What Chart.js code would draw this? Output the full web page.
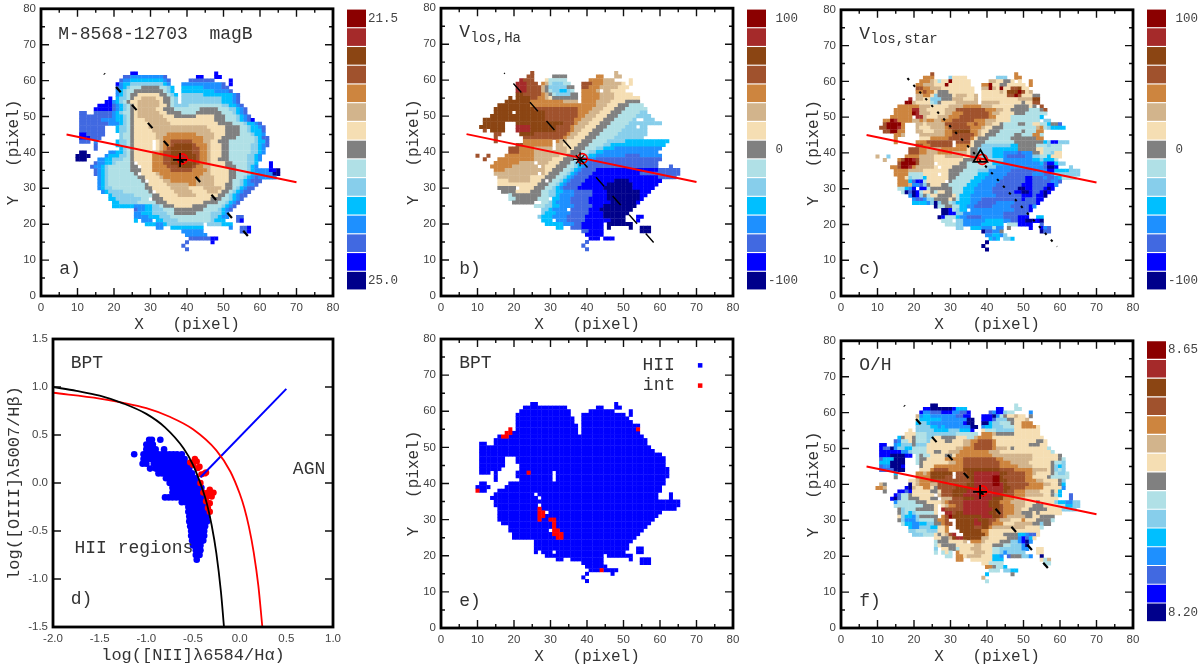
<!DOCTYPE html>
<html>
<head>
<meta charset="utf-8">
<script src="https://cdn.jsdelivr.net/npm/chart.js@4"></script>
<style>
body { margin: 0; background: #fff; }
canvas { position: absolute; }
</style>
</head>
<body>
<canvas id="mapA" width="345" height="335" style="left:0;top:0"></canvas>
<canvas id="barA" width="55" height="295" style="left:345px;top:0"></canvas>
<canvas id="mapB" width="345" height="335" style="left:400px;top:0"></canvas>
<canvas id="barB" width="55" height="295" style="left:745px;top:0"></canvas>
<canvas id="mapC" width="345" height="335" style="left:800px;top:0"></canvas>
<canvas id="barC" width="55" height="295" style="left:1145px;top:0"></canvas>
<canvas id="mapD" width="345" height="335" style="left:0;top:332px"></canvas>
<canvas id="mapE" width="345" height="335" style="left:400px;top:332px"></canvas>
<canvas id="mapF" width="345" height="335" style="left:800px;top:332px"></canvas>
<canvas id="barF" width="55" height="295" style="left:1145px;top:332px"></canvas>
<script>
// colour levels, bottom of the colour bar first
var levelKeys = '0123456789abcde';
var levelColors = ['#00008b', '#0000ff', '#4169e1', '#1e90ff', '#00bfff', '#87ceeb', '#b0e0e6', '#808080',
    '#f5deb3', '#d2b48c', '#cd853f', '#a0522d', '#8b4513', '#a52a2a', '#8b0000'];

var pixelTicks = [0, 10, 20, 30, 40, 50, 60, 70, 80];
var pixelMinor = [5, 15, 25, 35, 45, 55, 65, 75];
var bptTicksX = [-2, -1.5, -1, -0.5, 0, 0.5, 1];
var bptTicksY = [-1.5, -1, -0.5, 0, 0.5, 1, 1.5];

var barLabelsMag = ['21.5', '', '', '', '', '', '', '', '', '', '', '', '', '', '25.0'];
var barLabelsVel = [' 100', '', '', '', '', '', '', ' 0', '', '', '', '', '', '', '-100'];
var barLabelsOH = ['8.65', '', '', '', '', '', '', '', '', '', '', '', '', '', '8.20'];

// each row: y | xfrom-xto:level
var magBRows = [
'62|25-26:1 48:1',
'61|23-24:2 25-33:3 34:2 43-44:1 48-49:1',
'60|22:2 23-24:3 25-33:4 34:3 35:2 41-47:2 52:1',
'59|21:1 22:3 23-24:4 25-33:5 34:4 35:3 39-49:3 50:2 52:1',
'58|21:2 22:3 23:4 24:5 25-27:6 28-32:7 33-34:6 35:5 36:4 39-44:4 45-49:3 50-51:2',
'57|21:3 22:4 23:5 24-25:6 26-33:7 34:6 35:5 36:4 39-47:4 48-51:3 52:2',
'56|21:3 22:4 23:5 24:6 25-26:7 27-32:8 33-34:7 35:6 36:5 37:4 39-44:5 45-52:4 53:3 54:2',
'55|19:1 21:4 22-23:5 24:6 25:7 26-27:8 28-31:9 32-33:8 34-35:7 36:6 37:5 39-49:5 50-52:4 53:3 54:2',
'54|18-19:1 20:3 21:4 22:5 23:6 24:7 25-26:8 27-32:9 33:8 34-35:7 36:6 37:5 39-49:5 50-52:4 53:3 54:2',
'53|16-19:1 20:2 21:3 22:4 23:5 24:6 25:7 26:8 27-32:9 33-34:8 35:7 36:6 37-40:5 41-49:6 50-51:5 52-53:4 54:3 55:2',
'52|15-19:1 20:2 21:3 22:4 23:5 24:6 25:7 26:8 27-31:9 32-33:8 34-36:7 37-43:6 44-48:7 49-51:6 52-53:5 54:4 55:3 56:2',
'51|11-12:2 15-19:2 20:3 21:4 22:5 23-24:6 25:7 26:8 27-32:9 33-34:8 35-38:7 39-42:6 43-49:7 50-52:6 53:5 54:4 55:3 56:2',
'50|11-19:2 20:3 21-22:4 23:5 24:6 25:7 26:8 27-33:9 34-36:8 37-42:7 43-47:8 48-50:7 51-53:6 54:5 55:4 56:3 57:2',
'49|11-16:2 17-20:3 21-22:4 23:5 24:6 25:7 26-28:8 29-34:9 35-47:8 48-50:7 51-53:6 54:5 55:4 56:3 57:2 58:1',
'48|11-18:2 19-21:3 22:4 23:5 24:6 25:7 26-29:8 30-35:9 36-48:8 49-52:7 53-55:6 56:5 57-58:4 59:3 60:2',
'47|11-17:2 21:4 22-23:5 24:6 25:7 26-29:8 30-45:9 46-50:8 51-54:7 55-56:6 57:5 58-59:4 60:3 61:2',
'46|11-17:2 21:4 22-23:5 24:6 25:7 26-30:8 31-46:9 47-50:8 51-54:7 55-56:6 57:5 58-60:4 61:2',
'45|11-12:1 13-17:2 22:5 23-24:6 25:7 26-31:8 32-34:9 35-42:a 43-47:9 48-50:8 51-54:7 55-57:6 58:5 59-60:4 61:3',
'44|11-13:1 14-16:2 22:5 23-24:6 25:7 26-31:8 32-33:9 34-44:a 45-47:9 48-49:8 50-53:7 54-58:6 59:5 60:4 61-62:2',
'43|11-13:2 15:3 21:4 22-23:5 24:6 25:7 26-30:8 32:8 33:9 34-35:a 36-41:b 42-44:a 45-46:9 47-48:8 49-51:7 52-58:6 59:5 60-61:4 62:2',
'42|15:2 21:4 22-23:5 24:6 25:7 26-30:8 32:8 33:9 34-35:a 36:b 37-41:c 42:b 43-45:a 46:9 47-49:8 50-51:7 52-57:6 58-59:5 60:4 61:3 62:2',
'41|15:2 22:4 23:5 24:6 25:7 26-30:8 32:8 33:9 34:a 35:b 36-41:c 42-43:b 44-45:a 46:9 47-49:8 50-51:7 52-57:6 58-59:5 60:4 61:3',
'40|11-12:0 19-20:3 21-22:4 23:5 24:6 25:7 26-30:8 31-32:9 33:a 34-35:b 36-41:c 42-43:b 44-45:a 46:9 47-49:8 50-51:7 52-57:6 58-59:5 60:4 61:3',
'39|10-13:0 18:3 19-21:4 22-23:5 24:6 25:7 26-30:8 31-33:a 34-35:b 36-37:c 38-39:d 40-42:c 43:b 44-45:a 46:9 47-49:8 50-51:7 52-56:6 57-58:5 59:4 60:3',
'38|10-12:0 16-17:3 18-19:4 20-22:5 23-24:6 25:7 26-30:8 31-33:a 34-35:b 36-37:c 38-40:d 41-42:c 43:b 44-45:a 46:9 47-48:8 49-51:7 52-56:6 57-58:5 59:4 60:3',
'37|15:2 16-17:3 18-19:4 20:5 21-24:6 25:7 27-30:8 31-33:a 34-35:b 36-42:c 43:b 44-45:a 46:9 47-50:8 51-52:7 53-56:6 57-58:5 59:4 63:1',
'36|14:2 15-16:3 17:4 18:5 19-24:6 25-26:7 28-30:8 31-34:a 35-37:b 38-41:c 42:b 43-44:a 45-46:9 47-50:8 51-53:7 54-56:6 57:5 58:4 59:3 63:1',
'35|15:2 16:3 17:4 18:5 19-24:6 25-27:7 28-30:8 31-35:a 36-41:b 42-45:a 46:9 47-51:8 52-53:7 54-56:6 57:5 58:4 59-62:3 63-64:1 65:0',
'34|15:2 16:3 17:4 18:5 19-25:6 26:7 28-31:8 32:9 33-44:a 45-46:9 47-51:8 52-53:7 54-56:6 57:5 58-59:4 60-63:3 64-65:0',
'33|16:3 17:4 18:5 19-26:6 27-28:7 29-32:8 33:9 34-43:a 44-47:9 48-51:8 52-53:7 54-55:6 56:5 57:4 58:3 59:2 60-64:3',
'32|16:3 17:4 18:5 19-27:6 28:7 30-33:8 34-35:9 36-42:a 43-47:9 48-51:8 52:7 53-54:6 55:5 56:4 57:3 58-60:2',
'31|16:3 17:4 18:5 19-28:6 29:7 30-34:8 35-40:9 41-42:a 43-47:9 48-50:8 51-52:7 53-54:6 55:5 56:4 57-58:3 59:2',
'30|16:3 17:4 18-19:5 20-28:6 29-30:7 31-35:8 36-40:9 41-44:8 45-49:9 50:8 51-52:7 53:6 54:5 55:4 56:3 57-58:2',
'29|17:3 18:4 19-22:5 23-29:6 30:7 32-36:8 37-41:9 42-45:8 46-48:9 49:8 50-51:7 52:6 53:5 54:4 55:3 56-57:2',
'28|19:4 20-25:5 26-30:6 31-32:7 33-37:8 38-42:9 43-48:8 49-50:7 51:6 52:5 53:4 54:3 55-56:2',
'27|19-20:4 21-27:5 28-29:6 31-33:7 34-46:8 47-49:7 50-51:6 52:5 53:4 54:3 55:2',
'26|20-21:4 22-26:5 27-31:6 32-34:7 35-44:8 45-48:7 49-50:6 51:5 52:4 53:3 54:2',
'25|20-25:4 26-28:3 29-30:4 31-32:5 33:6 34-36:7 37-41:8 42-45:7 46-49:6 50:5 51:4 52:3 53:2',
'24|26:2 27-28:3 29-30:4 31-33:5 34-36:6 37-44:7 45-48:6 49:5 50:4 51:3 52:2',
'23|26-27:3 28-30:4 31-34:5 35-36:6 37-42:7 43-46:6 47-49:5 50:4 51:3',
'22|26-29:3 30-32:4 33-35:5 36-46:6 47-48:5 49:4 50-51:3 54-55:2',
'21|26:4 28-30:3 32-33:4 34-37:5 38-46:6 47:5 48-50:4 54:2 55:1',
'20|29-31:4 32-33:3 34:4 35-44:5 46-49:5 50-52:4',
'19|32-33:3 36-44:4 52:3 55-56:2 57:1',
'18|39-44:3 55-56:2 57:1',
'17|40-45:3',
'16|41-46:2 47-48:1',
'15|40:2 47:1',
'14|39:2',
'13|40:2'
];

var vHaRows = [
'62|25:b 48:9',
'61|24-25:b 31-34:7 43-44:a 48-49:9',
'60|22:d 23-25:b 29:8 30-34:6 41-44:a 45-47:9 52:8',
'59|21-23:d 24-26:b 28:a 29:9 30:6 31-33:5 34-35:6 39-41:b 42-44:a 45-49:9 50:8 52:8',
'58|21-23:d 24-27:b 28:9 29:7 30-34:5 35-36:7 39-40:b 41-43:a 44-48:9 49-51:8',
'57|21-23:d 24-27:b 28:9 29:7 30:6 31-32:5 33-34:4 35:5 36:6 39-42:a 43:9 45-46:9 47-50:8',
'56|21-22:c 23-27:b 28:a 29:9 30:7 31:6 32-35:5 36-37:7 39-43:a 44-47:9 48-52:8',
'55|19:c 21-24:c 25-26:b 27-28:a 29:9 30:8 31-37:7 39-43:a 44-47:9 48-54:8',
'54|18-24:c 25-33:a 34-37:9 39-42:a 43-46:9 47-50:8 51-54:7',
'53|16-24:c 25-38:a 39-42:a 43-45:9 46-48:8 49-51:7 52-55:6',
'52|15-25:c 26-37:b 38-41:a 42-44:9 45-47:8 48-50:7 51-56:6',
'51|15-19:c 21-28:c 29-37:b 38-40:a 41-43:9 44-46:8 47-49:7 50-54:6 55-56:5',
'50|14-28:c 29-37:b 38-39:a 40-42:9 43-45:8 46-48:7 49-53:6 54-57:5',
'49|12-28:c 29-36:b 37-38:a 39-41:9 42-44:8 45-47:7 48-52:6 53:5 56-58:5',
'48|12-17:c 21-33:c 34-36:b 37:a 38-40:9 41-43:8 44-46:7 47-51:6 52-60:5',
'47|11-17:c 21-24:d 25-31:c 32-35:b 36:a 37-39:9 40-42:8 43-45:7 46-50:6 51-53:5 55-56:5',
'46|12:b 14-17:c 21-24:d 25-31:c 32-35:b 36:a 37-38:9 39-41:8 42-44:7 45-49:6 50-56:5',
'45|15-16:b 22-25:c 26-34:b 35:a 36-37:9 38-40:8 41-43:7 44-48:6 49-56:5',
'44|15:b 23-33:b 34:a 35-36:9 37-39:8 40-42:7 43-47:6 48-55:5',
'43|15:b 23-30:a 32:a 33-34:9 35-38:8 39-41:7 42-45:6 46-50:5 51-62:4',
'42|21-22:b 23-30:a 32-33:9 34-37:8 38-40:7 41-44:6 45-46:5 47-61:4',
'41|19-21:b 22-25:a 26-30:9 32-34:9 35-36:8 37-39:7 40-42:6 43-44:5 45-47:4 48-60:3',
'40|19-21:b 22-25:a 26-34:9 35:8 36-38:7 39-40:6 41-42:5 43-44:4 45-59:3',
'39|10:b 13:b 18-25:a 26-32:9 33-34:8 35-37:7 38-39:6 40:5 41-42:4 43-50:3 51-54:2 55-60:3',
'38|12:b 16-25:a 26-30:9 31-33:8 34-36:7 37:6 38:5 39:4 40-42:3 43-60:2',
'37|15-21:a 22-25:9 27-29:9 30-32:8 33-35:7 36:6 37:5 38:4 39-40:3 41-59:2',
'36|14-19:a 20-26:9 28:9 29-31:8 32-34:7 35-36:6 37:5 38:4 39:3 40-59:2 63:2',
'35|15-17:a 18-28:9 29-30:8 31-33:7 34-35:6 36:5 37:4 38:3 39-42:2 43-59:1 60-65:2',
'34|15-26:9 28:9 29:8 30-32:7 33-34:6 35:5 36:4 37:3 38-41:2 42-54:1 55-65:2',
'33|16-24:9 25-28:8 29-31:7 32-33:6 34:5 35:4 36:3 37-40:2 41-59:1 60-64:2',
'32|16-18:8 19-24:9 25-27:8 28:7 30:7 31-32:6 33:5 34:4 35:3 36-39:2 40-47:1 48-51:0 52-60:1',
'31|16-26:8 27-29:7 30-31:6 32:5 33:4 34:3 35-38:2 39-45:1 46-52:0 53-59:1',
'30|16-20:7 22-25:8 26-28:7 29-30:6 31:5 32:4 33:3 34-37:2 38-44:1 45-52:0 53-58:1',
'29|17-20:7 21-24:8 25-27:7 28-29:6 30-31:5 32-33:4 34-36:3 37-41:2 42-45:1 46-54:0 55-57:1',
'28|19:6 20-27:7 28-29:6 30-31:5 32:4 33-36:3 37-41:2 42-45:1 46-54:0 55-56:1',
'27|19-20:6 21-26:7 27-29:6 31-32:4 33-35:3 36-40:2 41-45:1 46-54:0 55:1',
'26|20-25:7 28-29:6 30:5 31:4 32-35:3 36-40:2 41-46:1 47-53:0 54:1',
'25|26-28:6 29-30:5 31-32:4 33-36:3 37-41:2 42-44:1 45-53:0',
'24|28-29:5 30:4 31-34:3 36-40:2 41-43:1 44-52:0',
'23|28:5 29-31:4 32-35:3 36-40:2 41-44:1 45-51:0',
'22|27:5 28-30:4 31-34:3 35-39:2 40-44:1 45-50:0 54-55:1',
'21|28-30:4 32-34:3 35-39:2 40-46:1 47-50:0 54:1',
'20|29-33:4 34-36:3 37-38:2 39-44:1 46-52:0',
'19|32-33:4 36-38:2 39-44:1 46:0 52:0 55-57:0',
'18|39-40:2 41-44:1 55-57:0',
'17|40-44:1',
'16|41-43:1 45-47:1',
'15|40:2',
'14|39:2',
'13|40:2'
];

var vStarRows = [
'62|25:b 48:a',
'61|23-25:a 30:5 31-34:8 43-45:5 48-49:a',
'60|22-24:a 25:9 26:8 27:6 28-29:8 30:e 31-35:8 41-42:9 43-44:8 45-46:7 47:8 49:8 52:a',
'59|21-22:a 23-25:9 26-28:8 29:e 30-35:8 39-40:a 41:e 42-43:8 44-45:7 46-50:8 52:a',
'58|21-22:b 23-24:a 25-27:9 28-36:8 39-40:9 41:e 42:9 43:8 44:e 45-46:8 47-48:b 49:c 50-51:8',
'57|21-22:a 23:b 24-25:a 26:8 27-29:7 30-36:8 39-43:8 44:9 45:8 46-48:c 49:e 50:b 51:8 52:9',
'56|21-22:9 23-24:a 25:8 26:5 27-30:7 31:8 32-34:9 35-36:8 37:9 39-45:8 46-47:b 48:e 49:b 50-52:8 53-54:7',
'55|19:d 21-22:9 23-24:8 25-27:5 28-30:7 31-33:9 34-36:8 37:9 39-48:8 49-52:9 53-54:c',
'54|18-19:e 20:9 21-24:8 25:6 26:5 27:7 28-31:8 32-37:9 39-43:9 44-49:8 50:7 51-52:8 53-54:b',
'53|16-21:a 22-24:9 25-29:8 30-33:9 34-38:a 39-41:9 42-47:8 48-51:7 52:8 53:7 55:b',
'52|15-19:a 20-21:d 22-23:9 24-28:8 29-31:9 32-39:b 40-42:a 43-44:9 45-46:8 47-51:7 52-54:6 55:7 56:b',
'51|15-19:a 20:e 21:d 22-24:9 25-28:8 29-30:9 31-33:a 34-40:b 41:a 42-43:9 44-47:8 48-50:7 51-56:6',
'50|14-19:a 21-22:d 23:9 24-26:8 27-29:9 30-32:a 33-40:b 41-42:a 43-46:8 47-54:6 55:4',
'49|12-13:a 14:e 15:d 16-19:a 20-21:9 22:a 23:9 24-25:a 26-27:9 28-30:a 31-36:b 37-39:a 40-42:9 43-46:8 47-54:6 56-57:5',
'48|12:b 13-16:e 17:a 21-22:9 23:8 24-28:9 29-34:b 35-36:a 37:b 38-39:a 40-41:9 42-43:8 44:7 45-48:6 49-50:7 51-52:6 53-54:8 55-56:6 57:4 58-59:7 60:2',
'47|11-12:b 13-15:e 16:d 17:a 21:9 22-24:8 25-28:9 29:a 30-35:b 36-38:a 39:9 40-41:8 42-44:7 45-53:6 54:9 55:a 56:6 57:5 58-61:4',
'46|12-13:b 14-15:e 16-17:a 21-22:9 23-25:8 26-28:9 29-30:a 31-35:c 36-37:a 38:9 39-40:8 41-43:7 44-49:6 50:7 51-53:6 54-55:a',
'45|15-16:a 17:9 22-28:9 29-30:a 31-36:b 37:a 38:9 39:8 40-42:7 43-47:6 48-49:7 50-52:6 53-54:a 55:6',
'44|15:a 22-24:8 25-29:a 30-35:b 36:a 37:8 38-40:7 41-46:6 47-53:7 54-55:a',
'43|15:a 21-23:a 24-30:b 32-35:b 36:8 37-39:7 40-47:6 48-55:7 56:4 57:5 58-59:1 60-62:5',
'42|21-22:b 23-24:a 25-30:b 32-35:a 36:8 37-38:7 39-46:5 47-48:4 49-53:7 54-56:6 57:5 58-60:6',
'41|19-21:b 22-23:a 24-27:9 28-34:a 35:8 36-37:7 38-41:5 42-48:4 49-53:7 54-55:8 56-60:6',
'40|19-21:b 22-23:a 24-26:9 27-30:a 31-34:9 35:8 36-37:7 38-41:5 42-44:4 45-48:3 49:2 50-52:3 53-54:7 55:8 56-57:6 58:5 59-60:8',
'39|10:9 13:5 18-21:a 22-25:9 26-28:8 29-33:9 34-35:8 36-37:7 38:9 39-41:5 42-44:4 45:3 46-50:2 51-52:3 53-54:5 55-56:6 57:4 58-60:8',
'38|12:9 16:a 17:b 18-19:e 20:d 21:b 22-25:9 26-33:8 34-36:7 37-40:9 41:6 42-44:5 45-52:3 53-54:4 55:5 56-58:4 59:6',
'37|16:b 17-20:e 21:b 22-25:9 27-32:8 33-34:7 35-41:6 42-44:4 45-54:3 55:4 56:2 57-58:1 59:4 60-61:5',
'36|14-15:a 16:b 17-18:e 19:d 20:a 21-25:9 26:8 28-30:8 31-34:7 35-39:6 40-42:5 43-55:3 56:2 57-58:0 59:1 63:5',
'35|15-18:a 19-22:9 23-29:8 30-33:7 34-37:6 38-40:5 41-46:3 47-53:2 54-56:3 57-58:1 59-62:4 63-65:5',
'34|15-18:a 19-22:6 23-26:8 28-29:8 30-32:7 33-37:6 38-40:4 41-45:3 46-52:2 53-55:3 56-57:2 58:3 59-65:5',
'33|16-17:a 18:8 19:5 20-22:6 23:4 24-29:8 30-31:7 32-36:6 37-39:4 40-44:3 45-50:2 51-52:1 53-55:2 56:3 57-58:2 59:3 60:4 61-64:6',
'32|16-18:a 19:4 20:2 21-22:1 23:6 24-28:8 30:7 31-35:6 36-38:4 39-43:3 44-50:2 51-52:1 53-57:2 58-59:3 60:2',
'31|16-18:a 19:9 20-21:3 22:2 23:5 24:7 25-27:8 28-29:7 30-34:6 35-37:4 38-42:3 43-49:2 50-52:1 53-56:2 57-58:1 59:3',
'30|16-17:6 18:4 19:3 20:1 22-23:1 24:6 25-30:7 31-33:6 34-36:4 37-41:3 42-48:2 49-50:0 51-52:1 53-55:2 56:1 57:0 58:1',
'29|17:6 18:0 19:2 20:0 21:1 22:6 23-24:8 25:7 26:6 27-28:8 29-30:7 31-33:6 34-36:4 37-41:3 42-47:2 48-49:1 50-51:0 52:1 53-54:2 55:1 56:0 57:1',
'28|19:3 20:0 21:1 22:5 23:7 24:6 25-26:8 27-30:7 31:8 32:6 33-35:4 36-42:3 43-49:2 50-52:1 53:2 54-55:1 56:0',
'27|20:3 21-22:2 23:3 24-25:5 26-29:7 30:8 31:7 32:6 33-35:4 36-38:3 39-49:2 50:1 51-53:2 54-55:1',
'26|20-23:4 24:3 25:5 26:0 27:5 28-29:7 30:6 31:5 32-35:4 36-37:3 38-42:2 43-47:3 48-53:2 54:1',
'25|26:0 27-28:6 29-30:7 31-32:6 33-34:4 35-36:3 37-41:2 42-46:3 47-51:2 52:1 53:3',
'24|28-29:0 30:1 31:6 32:5 33-34:4 36-47:3 48-51:2 52:1',
'23|28-29:0 30-31:1 32-33:5 34-44:3 45-51:2',
'22|27:0 28:1 29-31:6 32:4 33-34:3 35-38:2 39-44:3 45-48:2 49-51:1 54-55:4',
'21|28-30:6 32-33:5 34-39:3 40-44:4 45-46:3 47-48:2 49-50:1 51-52:0 53-54:1 55:0',
'20|29-31:6 32-33:5 34-38:3 39-44:4 46-48:6 49-52:1 55:2',
'19|32-33:5 36-38:4 39-41:3 42:6 43-44:3 46:7 52:1 55:1 56:3 57:2',
'18|39:0 40-41:2 42-43:3 44:7 55:0 56-57:2',
'17|40-41:3 42-43:4 44:3 45:5',
'16|41:4 42:3 43:4 45-46:5 47:4',
'15|40:0',
'14|39:0',
'13|40:0'
];

var oxygenRows = [
'62|25-26:0 48:6',
'61|23-24:1 25-30:0 31:1 32-34:4 43-44:1 48-49:6',
'60|22:1 23-24:3 25-27:2 28-30:1 31-32:3 33-34:2 35:1 41:2 42:3 43-44:1 45:5 46-47:6 52:3',
'59|21:9 22:3 23-24:4 25-31:3 32-33:2 34-35:1 39-41:1 42:0 43:3 44:6 45:7 46-47:8 48:9 49-50:8 52:7',
'58|21:8 22-27:4 28-34:3 35-36:0 39-41:1 42:2 43-45:5 46-47:7 48-50:8 51:9',
'57|21:4 22-23:5 24:4 25-33:3 34:1 35-36:0 39-40:0 41:4 42-43:5 44-46:6 47:7 48-49:8 50-52:a',
'56|21-24:5 25-26:4 27:3 28:4 29-35:3 36-37:0 39:3 40-41:4 42-44:5 45-47:6 48-49:8 50-53:a 54:8',
'55|19:8 21-25:5 26-29:4 30-32:5 33-35:4 36:1 39:8 40-42:6 43-47:5 48-54:8',
'54|18-20:8 21-23:6 24-31:5 32-37:6 39-41:a 42:9 43-47:7 48-54:8',
'53|16:4 17:7 18-19:8 20:7 21-23:6 24-25:5 26-27:8 28-31:7 32-34:8 35-36:6 37:9 38-41:a 42-55:8',
'52|15:2 16:3 17-18:6 19:8 20:7 21-23:6 24:5 25-28:8 29-30:7 31-33:8 34-35:9 36-37:a 38-41:b 42:a 43-53:8 54-55:7 56:8',
'51|11-12:1 15:3 16:4 17-19:5 20:7 21-23:5 24-33:8 34-35:9 36:a 37-41:b 42:a 43-51:8 52-54:7 55-56:8',
'50|11:1 12-13:2 14:0 15:3 16-17:5 18-19:4 20-23:6 24-31:8 32-33:9 34-36:a 37-41:b 42:a 43-45:9 46:8 47:7 48-56:8 57:6',
'49|11-16:1 17-18:3 19:5 20-23:6 24-25:8 26-27:7 28-29:8 30-32:9 33-40:a 41-43:9 44-57:8 58:6',
'48|11-13:1 14-17:0 18-19:1 21:6 22:7 23-24:6 25-28:8 29-30:7 31:8 32-41:a 42-52:9 53-59:8 60:7',
'47|11:2 12-14:4 15-17:0 21:6 22-23:7 24-28:8 29-33:a 34-42:b 43-44:a 45-52:9 53-59:8 60:7 61:6',
'46|11-13:4 14-17:0 21:6 22:7 23-29:8 30-31:9 32-33:a 34-43:b 44-46:a 47-51:9 52-57:8 58:7 59-60:6 61:5',
'45|11:2 12-13:3 14-16:0 17:1 22:7 23-25:8 26-33:a 34-43:b 44-48:a 49-52:9 53-57:8 58:7 59:5 60:4 61:5',
'44|11-14:2 15-17:0 22-24:8 25:a 26-29:b 30-33:a 34-43:c 44-47:b 48-52:a 53-56:9 57:8 58:7 59:5 60:6 61:5',
'43|15:4 21-22:a 23:9 24:a 25-30:c 32-34:b 35-36:c 37-43:d 44-45:c 46-50:b 51-52:a 53:9 54-57:8 58:7 59:6 60-61:5 62:6',
'42|15:7 21-24:a 25-28:c 29-30:b 32-34:b 35-36:c 37-41:d 42-43:e 44:c 45-50:b 51-52:a 53-56:8 57:7 58-62:6',
'41|19-20:8 21:9 22-24:a 25-35:b 36:c 37-41:d 42-43:e 44-45:c 46-50:b 51-53:a 54-55:9 56-59:8 60:7 61:5',
'40|11:9 12:7 19:0 20:8 21:9 22-24:a 25-26:9 27-34:b 35-36:c 37-41:d 42-43:e 44:d 45:c 46-51:b 52-55:a 56-57:9 58-59:8 60:7 61:4',
'39|10-11:a 12:9 18:1 19:0 20:9 21-22:8 23-24:a 25:8 26:7 27-31:b 32-36:c 37-44:d 45-46:c 47-50:b 51-55:a 56-60:8 61:3',
'38|12:7 16-17:1 18:2 19:1 20-24:8 25-26:7 27:8 28-30:b 31-34:c 35-44:d 45:c 46-47:b 48-50:a 51-54:9 55-57:8 58:7 59:8 60:4',
'37|15:1 16:2 17-18:6 19:7 20-25:8 27:9 28-30:b 31-33:c 34-43:d 44:c 45-47:b 48-50:a 51-55:9 56-57:8 58:7 59:6 60:4 63:2',
'36|14:1 15:0 16:2 17-18:6 19-21:7 22-24:8 25-26:7 28-30:9 31-33:b 34-36:c 37-41:d 42-44:c 45-47:a 48-50:9 51-59:8 63:2',
'35|15:3 16-20:6 21-23:7 24-27:8 28:9 29:a 30-33:b 34-40:d 41-43:c 44-46:a 47-50:9 51-53:8 54:7 55-58:8 59:5 60-61:4 62-63:3 64-65:5',
'34|15-22:6 23-25:7 26:8 28:8 29:9 30-31:a 32-33:b 34-40:d 41-43:c 44:b 45-47:a 48-50:9 51-52:8 53-55:7 56-59:8 60-61:6 62-63:4 64-65:5',
'33|16:7 17:5 18-20:6 21-25:7 26:8 28:d 29-33:b 34-41:d 42-43:c 44:b 45-47:a 48-49:9 50-51:8 52-56:7 57-60:8 61-64:5',
'32|16:7 17:5 18:6 19:4 20:5 21-25:6 26:8 29-30:d 31:b 32-33:c 34-40:d 41-42:c 43-44:b 45-47:a 48-49:9 50-52:7 53:8 54:7 55-60:8',
'31|16:8 17:5 18-19:4 20:3 21:5 22-26:7 28:a 29:b 30:e 31-38:c 39-41:d 42-43:c 44:b 45:a 46-50:9 51-52:7 53-54:8 55-58:7',
'30|16:7 17:5 18-20:3 21:5 22-25:6 26:7 27-28:a 29:b 32-36:c 37:d 38-40:c 41-42:b 43:a 44-46:9 47-49:8 50:a 51-53:8 54-57:7 58:6',
'29|17:6 18-19:4 20-21:3 22-23:4 24-25:5 26-27:7 28:a 29-30:b 32-36:c 37-38:d 39-40:c 41:b 42-44:a 45-47:8 48-52:9 53-54:7 55:5 56-57:7',
'28|19:4 20-21:3 22-24:5 25-26:4 27-28:8 29:a 32-36:c 37-38:b 39-40:c 41:a 42-50:9 51-54:8 55:6',
'27|19-20:5 21-23:6 24-26:5 27-28:8 29:a 33-38:c 39-40:a 41-54:8',
'26|20-22:5 23-25:6 26:8 27:7 28:8 29:9 30:b 31:d 34-39:c 40:a 41-44:8 45-48:7 49-50:4 51:3 52-53:2 54:8',
'25|26-27:8 28-29:7 30:9 31:c 32-33:d 34-38:c 39-40:9 41-45:8 46-48:7 49:3 50:1 51:2 52:4 53:8',
'24|26:6 27-29:7 30-33:8 34:9 36-38:a 39:9 40-43:8 44-46:7 47-48:5 49:3 50:1 51:0 52:3',
'23|26:6 27:8 28-31:7 32-36:8 37-38:9 39-41:8 42-44:7 45-46:6 47-49:5 50:3 51:0',
'22|26:5 28-29:8 30-31:7 32:6 33-35:8 36-38:9 39-41:8 42-43:6 44-49:5 50-51:3 54-55:8',
'21|26:6 28:6 29:8 30:6 32:a 33-36:8 37-39:9 40-41:8 42-43:6 44:5 45:3 46-50:5 54-55:8',
'20|29-30:6 32-33:a 34:8 35-38:9 39-41:8 42-43:4 44:3 46:2 47-49:7 50-51:5 52:3 55:0',
'19|32-33:a 36-41:8 42-44:4 55:8 56:6 57:9',
'18|39-40:8 41-44:6 56-57:6',
'17|40-41:a 42:7 43-44:6 45:4',
'16|41-43:6 45-46:5 47-48:4',
'15|40:4 47:7',
'14|39:9',
'13|40:6'
];

// spaxels classed as intermediate on panel e
var intCellsX = [17, 18, 18, 19, 19, 54, 24, 10, 44, 27, 27, 28, 27, 28, 27, 30, 31, 31, 31, 31, 32, 31, 32, 33, 32, 33];
var intCellsY = [53, 53, 54, 54, 55, 55, 43, 38, 16, 33, 32, 32, 31, 31, 30, 30, 30, 29, 28, 27, 27, 26, 26, 26, 25, 25];

// BPT diagram, x values per row of log OIII/Hb
var bptHii = [
[0.45, [-0.97, -0.94, -0.85]],
[0.40, [-1.00, -0.96, -0.93]],
[0.35, [-1.00, -0.96, -0.92, -0.90, -0.81]],
[0.30, [-1.13, -1.03, -0.99, -0.95, -0.91, -0.87, -0.83, -0.79, -0.75, -0.71, -0.67, -0.62]],
[0.25, [-1.03, -0.99, -0.95, -0.91, -0.87, -0.83, -0.79, -0.75, -0.71, -0.67, -0.63, -0.59]],
[0.20, [-1.04, -1.00, -0.92, -0.88, -0.84, -0.80, -0.76, -0.72, -0.68, -0.64, -0.60, -0.56]],
[0.15, [-0.96, -0.90, -0.86, -0.82, -0.78, -0.74, -0.70, -0.66, -0.62, -0.58, -0.54]],
[0.10, [-0.87, -0.83, -0.79, -0.75, -0.71, -0.67, -0.63, -0.59, -0.55, -0.51]],
[0.05, [-0.79, -0.75, -0.71, -0.67, -0.63, -0.59, -0.55, -0.51, -0.47]],
[0.00, [-0.75, -0.71, -0.67, -0.63, -0.59, -0.55, -0.51, -0.47, -0.43]],
[-0.05, [-0.72, -0.68, -0.64, -0.60, -0.56, -0.52, -0.48, -0.44, -0.41]],
[-0.10, [-0.72, -0.68, -0.64, -0.60, -0.56, -0.52, -0.48, -0.44, -0.40]],
[-0.15, [-0.80, -0.76, -0.72, -0.68, -0.64, -0.60, -0.56, -0.52, -0.48, -0.44, -0.39]],
[-0.20, [-0.62, -0.58, -0.54, -0.50, -0.46, -0.42, -0.37]],
[-0.25, [-0.55, -0.51, -0.47, -0.43, -0.39, -0.36]],
[-0.30, [-0.55, -0.51, -0.47, -0.43, -0.39, -0.36]],
[-0.35, [-0.54, -0.50, -0.46, -0.42, -0.38, -0.35]],
[-0.40, [-0.54, -0.50, -0.46, -0.42, -0.38, -0.35]],
[-0.45, [-0.53, -0.49, -0.45, -0.41, -0.37]],
[-0.50, [-0.52, -0.48, -0.44, -0.40, -0.38]],
[-0.55, [-0.52, -0.48, -0.44, -0.40, -0.38]],
[-0.60, [-0.51, -0.47, -0.43, -0.39]],
[-0.65, [-0.50, -0.46, -0.42]],
[-0.70, [-0.47, -0.44, -0.42]],
[-0.75, [-0.47, -0.43]],
[-0.80, [-0.46]]
];
var bptIntX = [-0.53, -0.48, -0.46, -0.43, -0.50, -0.45, -0.41, -0.375, -0.36, -0.42, -0.39, -0.32, -0.28, -0.34, -0.30, -0.36, -0.32, -0.34, -0.32, -0.35];
var bptIntY = [0.215, 0.25, 0.225, 0.17, 0.19, 0.155, 0.09, 0.10, 0.11, 0.00, -0.10, -0.07, -0.10, -0.10, -0.14, -0.19, -0.21, -0.26, -0.30, -0.14];

var blackCurveX = [-2, -1.75, -1.5, -1.25, -1, -0.8, -0.6, -0.5, -0.4, -0.35, -0.3, -0.25, -0.2, -0.168];
var blackCurveY = [1.00, 0.96, 0.91, 0.83, 0.72, 0.58, 0.36, 0.19, -0.06, -0.22, -0.44, -0.73, -1.14, -1.5];
var redCurveX = [-2, -1.5, -1, -0.75, -0.5, -0.25, -0.1, 0, 0.05, 0.1, 0.15, 0.2, 0.243];
var redCurveY = [0.94, 0.88, 0.78, 0.69, 0.56, 0.34, 0.12, -0.11, -0.26, -0.46, -0.72, -1.07, -1.5];
var blueLineX = [-0.42, 0.5];
var blueLineY = [0.06, 0.98];

// kinematic axes on the maps
var majorAxisX = [7, 70];
var majorAxisY = [45, 31.7];
var minorAxisX = [17.3, 59.2];
var minorAxisY = [62, 13.8];

function parseRows(rows) {
    var cells = [];
    rows.forEach(function (row) {
        var parts = row.split('|');
        parts[1].split(' ').forEach(function (seg) {
            var s = seg.split(':');
            var r = s[0].split('-');
            var from = parseInt(r[0]);
            var to = r.length > 1 ? parseInt(r[1]) : from;
            for (var x = from; x <= to; x++) {
                cells.push({x: x, y: parseInt(parts[0]), lv: levelKeys.indexOf(s[1])});
            }
        });
    });
    return cells;
}

function zipXY(xs, ys) {
    return xs.map(function (v, i) { return {x: v, y: ys[i]}; });
}

// frame, inward ticks and the labels inside the box
function framePlugin(cfg) {
    return {
        id: 'frame',
        afterDatasetsDraw: function (chart) {
            var ctx = chart.ctx, a = chart.chartArea, sx = chart.scales.x, sy = chart.scales.y;
            ctx.save();
            ctx.strokeStyle = '#111';
            ctx.lineWidth = 1.4;
            ctx.beginPath();
            function tickX(v, len) {
                var p = sx.getPixelForValue(v);
                ctx.moveTo(p, a.bottom); ctx.lineTo(p, a.bottom - len);
                ctx.moveTo(p, a.top); ctx.lineTo(p, a.top + len);
            }
            function tickY(v, len) {
                var p = sy.getPixelForValue(v);
                ctx.moveTo(a.left, p); ctx.lineTo(a.left + len, p);
                ctx.moveTo(a.right, p); ctx.lineTo(a.right - len, p);
            }
            (cfg.xMajor || []).forEach(function (v) { tickX(v, 8); });
            (cfg.xMinor || []).forEach(function (v) { tickX(v, 4); });
            (cfg.yMajor || []).forEach(function (v) { tickY(v, 8); });
            (cfg.yMinor || []).forEach(function (v) { tickY(v, 4); });
            ctx.stroke();
            ctx.lineWidth = 2.8;
            ctx.strokeStyle = '#000';
            ctx.strokeRect(a.left, a.top, a.right - a.left, a.bottom - a.top);
            ctx.fillStyle = '#333';
            ctx.textBaseline = 'middle';
            ctx.textAlign = 'left';
            cfg.texts.forEach(function (t) {
                ctx.font = (t[3] || 18) + 'px "Liberation Mono"';
                ctx.fillText(t[2], sx.getPixelForValue(t[0]), sy.getPixelForValue(t[1]));
            });
            ctx.restore();
        }
    };
}

function axisOptions(vals, title, min, max, isY, fmt, fit, titleSize) {
    return {
        type: 'linear',
        min: min,
        max: max,
        afterBuildTicks: function (scale) {
            scale.ticks = vals.map(function (v) { return {value: v}; });
        },
        afterFit: function (scale) {
            if (isY) {
                scale.width = fit;
                scale.paddingTop = 0;
                scale.paddingBottom = 0;
            } else {
                scale.height = fit;
                scale.paddingLeft = 0;
                scale.paddingRight = 0;
            }
        },
        grid: {display: false, drawTicks: false},
        border: {display: false},
        ticks: {
            padding: 5,
            maxRotation: 0,
            autoSkip: false,
            color: '#444',
            font: {family: '"Liberation Sans"', size: 11.5},
            callback: fmt
        },
        title: {
            display: true,
            text: title,
            color: '#333',
            font: {family: '"Liberation Mono"', size: titleSize || 16},
            padding: {top: 4, bottom: 1}
        }
    };
}

function pixelChart(id, datasets, texts) {
    return new Chart(document.getElementById(id), {
        type: 'scatter',
        data: {datasets: datasets},
        options: {
            responsive: false,
            animation: false,
            layout: {padding: {top: 7, right: 12}},
            plugins: {legend: {display: false}, tooltip: {enabled: false}},
            scales: {
                x: axisOptions(pixelTicks, 'X   (pixel)', 0, 80, false, function (v) { return v; }, 39),
                y: axisOptions(pixelTicks, 'Y   (pixel)', 0, 80, true, function (v) { return v; }, 41)
            }
        },
        plugins: [framePlugin({xMajor: pixelTicks, xMinor: pixelMinor, yMajor: pixelTicks, yMinor: pixelMinor, texts: texts})]
    });
}

function cellSet(cells) {
    return {
        data: cells,
        pointStyle: 'rect',
        pointRadius: 2.85,
        pointBorderWidth: 0,
        pointBackgroundColor: cells.map(function (c) { return levelColors[c.lv]; })
    };
}

function lineSet(xs, ys, color, width, dash, offset) {
    return {
        type: 'line',
        data: zipXY(xs, ys),
        borderColor: color,
        borderWidth: width,
        borderDash: dash || [],
        borderDashOffset: offset || 0,
        pointRadius: 0,
        tension: 0,
        fill: false
    };
}

function curveSet(xs, ys, color) {
    var set = lineSet(xs, ys, color, 1.8);
    set.cubicInterpolationMode = 'monotone';
    return set;
}

function markerSet(x, y, style, radius, color, width) {
    return {
        data: [{x: x, y: y}],
        pointStyle: style,
        pointRadius: radius,
        pointBorderColor: color,
        pointBackgroundColor: 'rgba(0,0,0,0)',
        pointBorderWidth: width
    };
}

function colourBar(id, labels, top) {
    new Chart(document.getElementById(id), {
        type: 'bar',
        data: {
            labels: labels,
            datasets: [{
                data: labels.map(function () { return 1; }),
                backgroundColor: levelColors.slice().reverse(),
                barPercentage: 1,
                categoryPercentage: 0.94
            }]
        },
        options: {
            indexAxis: 'y',
            responsive: false,
            animation: false,
            layout: {padding: {top: top, bottom: 295 - top - 281, left: 2}},
            plugins: {legend: {display: false}, tooltip: {enabled: false}},
            scales: {
                x: {min: 0, max: 1, display: false},
                y: {
                    position: 'right',
                    afterFit: function (scale) {
                        scale.width = 34;
                        scale.paddingTop = 0;
                        scale.paddingBottom = 0;
                    },
                    grid: {display: false, drawTicks: false},
                    border: {display: false},
                    ticks: {
                        autoSkip: false,
                        padding: 2,
                        color: '#444',
                        font: {family: '"Liberation Mono"', size: 12.5}
                    }
                }
            }
        }
    });
}

var magCells = parseRows(magBRows);

pixelChart('mapA', [
    markerSet(38.1, 37.9, 'cross', 7, '#000', 1.8),
    markerSet(38.7, 38.2, 'circle', 5, '#f00', 1.6),
    lineSet(majorAxisX, majorAxisY, '#f00', 2),
    lineSet(minorAxisX, minorAxisY, '#000', 2.2, [7, 17], 6),
    cellSet(magCells)
], [[4.7, 73, 'M-8568-12703  magB'], [5, 7.4, 'a)']]);

pixelChart('mapB', [
    markerSet(38.1, 38, 'crossRot', 6, '#000', 1.2),
    markerSet(38.1, 38, 'cross', 7, '#000', 1.2),
    markerSet(38.7, 38.2, 'circle', 5, '#f00', 1.6),
    lineSet(majorAxisX, majorAxisY, '#f00', 2),
    lineSet(minorAxisX, minorAxisY, '#000', 1.4, [12, 13], 11),
    cellSet(parseRows(vHaRows))
], [[5, 73.3, 'V'], [8.1, 71.7, 'los,Ha', 14], [5, 7.4, 'b)']]);

pixelChart('mapC', [
    markerSet(38.2, 38.6, 'triangle', 8, '#000', 1.8),
    markerSet(38.7, 38.2, 'circle', 5, '#f00', 1.6),
    lineSet(majorAxisX, majorAxisY, '#f00', 2),
    lineSet([18.2, 59.2], [60.9, 13.8], '#000', 2, [2.5, 6.5]),
    cellSet(parseRows(vStarRows))
], [[5, 73.3, 'V'], [8.1, 71.7, 'los,star', 14], [5, 7.4, 'c)']]);

var bptHiiPoints = [];
bptHii.forEach(function (row) {
    row[1].forEach(function (x) { bptHiiPoints.push({x: x, y: row[0]}); });
});

new Chart(document.getElementById('mapD'), {
    type: 'scatter',
    data: {
        datasets: [
            curveSet(blackCurveX, blackCurveY, '#000'),
            curveSet(redCurveX, redCurveY, '#f00'),
            lineSet(blueLineX, blueLineY, '#00f', 2),
            {data: zipXY(bptIntX, bptIntY), pointRadius: 3.2, pointBorderWidth: 0, pointBackgroundColor: '#f00'},
            {data: bptHiiPoints, pointRadius: 3.3, pointBorderWidth: 0, pointBackgroundColor: '#00f'}
        ]
    },
    options: {
        responsive: false,
        animation: false,
        layout: {padding: {top: 7, right: 12}},
        plugins: {legend: {display: false}, tooltip: {enabled: false}},
        scales: {
            x: axisOptions(bptTicksX, 'log([NII]\u03bb6584/H\u03b1)', -2, 1, false, function (v) { return v.toFixed(1); }, 40, 17),
            y: axisOptions(bptTicksY, 'log([OIII]\u03bb5007/H\u03b2)', -1.5, 1.5, true, function (v) { return v.toFixed(1); }, 53, 17)
        }
    },
    plugins: [framePlugin({yMajor: bptTicksY, texts: [
        [-1.81, 1.25, 'BPT'], [-1.77, -0.68, 'HII regions'], [0.57, 0.14, 'AGN'], [-1.81, -1.21, 'd)']
    ]})]
});

var intKeys = intCellsX.map(function (x, i) { return x + '_' + intCellsY[i]; });
var hiiCells = magCells.filter(function (c) { return intKeys.indexOf(c.x + '_' + c.y) < 0; });

pixelChart('mapE', [
    {data: [{x: 71, y: 67.1}], pointStyle: 'rect', pointRadius: 3.2, pointBorderWidth: 0, pointBackgroundColor: '#f00'},
    {data: [{x: 71, y: 72.7}], pointStyle: 'rect', pointRadius: 3.2, pointBorderWidth: 0, pointBackgroundColor: '#00f'},
    {data: zipXY(intCellsX, intCellsY), pointStyle: 'rect', pointRadius: 2.85, pointBorderWidth: 0, pointBackgroundColor: '#f00'},
    {data: hiiCells, pointStyle: 'rect', pointRadius: 2.85, pointBorderWidth: 0, pointBackgroundColor: '#00f'}
], [[5, 73.3, 'BPT'], [55.2, 72.8, 'HII'], [55.3, 67.2, 'int'], [5, 7.4, 'e)']]);

pixelChart('mapF', [
    markerSet(38.1, 37.9, 'cross', 7, '#000', 1.8),
    markerSet(38.7, 38.2, 'circle', 5, '#f00', 1.6),
    lineSet(majorAxisX, majorAxisY, '#f00', 2),
    lineSet(minorAxisX, minorAxisY, '#000', 2.2, [7, 17], 6),
    cellSet(parseRows(oxygenRows))
], [[5, 73.3, 'O/H'], [5, 7.4, 'f)']]);

colourBar('barA', barLabelsMag, 9);
colourBar('barB', barLabelsVel, 9);
colourBar('barC', barLabelsVel, 9);
colourBar('barF', barLabelsOH, 8.7);
</script>
</body>
</html>
